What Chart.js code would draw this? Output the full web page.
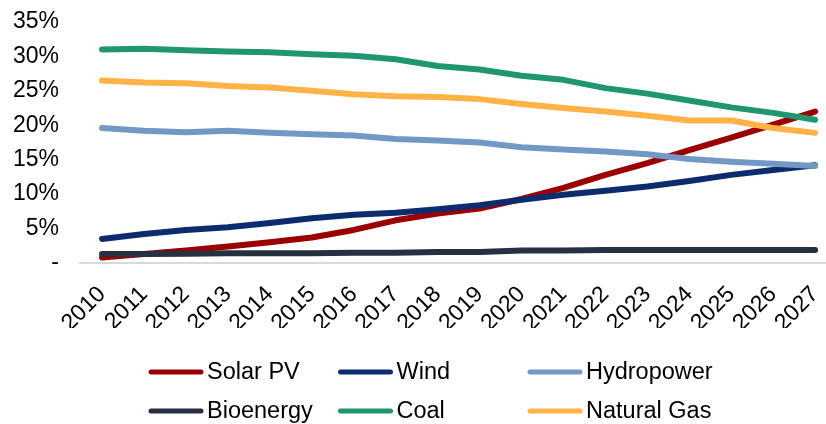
<!DOCTYPE html>
<html>
<head>
<meta charset="utf-8">
<script src="https://cdn.jsdelivr.net/npm/chart.js@4"></script>
<style>
  html, body { margin: 0; padding: 0; background: #fff; overflow: hidden; }
  #wrap { width: 826px; height: 424px; }
</style>
</head>
<body>
<div id="wrap"><canvas id="c" width="826" height="424"></canvas></div>
<script>
// Share of global electricity generation by source (%), 2010–2027
const years = [2010, 2011, 2012, 2013, 2014, 2015, 2016, 2017, 2018, 2019, 2020, 2021, 2022, 2023, 2024, 2025, 2026, 2027];

const solarPV    = [0.8, 1.3, 1.8, 2.4, 3.0, 3.7, 4.8, 6.2, 7.2, 7.9, 9.3, 10.9, 12.8, 14.5, 16.4, 18.2, 20.1, 22.0];
const wind       = [3.5, 4.2, 4.8, 5.2, 5.8, 6.5, 7.0, 7.3, 7.8, 8.4, 9.2, 9.9, 10.5, 11.1, 11.9, 12.8, 13.5, 14.2];
const hydropower = [19.6, 19.2, 19.0, 19.2, 18.9, 18.7, 18.5, 18.0, 17.8, 17.5, 16.8, 16.5, 16.2, 15.8, 15.1, 14.7, 14.4, 14.1];
const bioenergy  = [1.3, 1.3, 1.35, 1.4, 1.4, 1.4, 1.5, 1.5, 1.6, 1.6, 1.8, 1.8, 1.9, 1.9, 1.9, 1.9, 1.9, 1.9];
const coal       = [31.0, 31.1, 30.9, 30.7, 30.6, 30.3, 30.1, 29.6, 28.6, 28.1, 27.2, 26.6, 25.4, 24.6, 23.6, 22.6, 21.8, 20.8];
const naturalGas = [26.5, 26.2, 26.1, 25.7, 25.5, 25.0, 24.5, 24.2, 24.1, 23.8, 23.1, 22.5, 22.0, 21.4, 20.7, 20.7, 19.6, 18.9];

const seriesNames = ['Solar PV', 'Wind', 'Hydropower', 'Bioenergy', 'Coal', 'Natural Gas'];
const seriesData  = [solarPV, wind, hydropower, bioenergy, coal, naturalGas];
const seriesColors = ['#9a0000', '#0c2c6e', '#7299c6', '#273040', '#1f9670', '#ffb347'];

const yTicks = [0, 5, 10, 15, 20, 25, 30, 35];

const FONT = 'Liberation Sans, Arial, sans-serif';

// Legend drawn as a fixed three-column grid under the plot
const gridLegend = {
  id: 'gridLegend',
  afterDraw(chart, args, opts) {
    const ctx = chart.ctx;
    ctx.save();
    ctx.font = opts.fontSize + 'px ' + FONT;
    ctx.textBaseline = 'middle';
    ctx.textAlign = 'left';
    chart.data.datasets.forEach((ds, i) => {
      const col = i % opts.columns;
      const row = Math.floor(i / opts.columns);
      const x = opts.left + col * opts.colWidth;
      const y = opts.top + row * opts.rowHeight;
      ctx.strokeStyle = ds.borderColor;
      ctx.lineWidth = opts.lineWidth;
      ctx.lineCap = 'round';
      ctx.beginPath();
      ctx.moveTo(x + 3, y);
      ctx.lineTo(x + opts.lineLength - 3, y);
      ctx.stroke();
      ctx.fillStyle = '#000';
      ctx.fillText(ds.label, x + opts.lineLength + 3, y + 1);
    });
    ctx.restore();
  }
};

const datasets = seriesNames.map((name, i) => ({
  label: name,
  data: years.map((yr, k) => ({ x: yr, y: seriesData[i][k] })),
  borderColor: seriesColors[i],
  backgroundColor: seriesColors[i],
  borderWidth: 6,
  borderCapStyle: 'round',
  borderJoinStyle: 'round',
  pointRadius: 0,
  tension: 0,
  fill: false,
  // later series sit on top of earlier ones
  order: seriesNames.length - i
}));

new Chart(document.getElementById('c'), {
  type: 'line',
  data: { datasets },
  plugins: [gridLegend],
  options: {
    responsive: false,
    animation: false,
    devicePixelRatio: 1,
    layout: { padding: { left: 0, right: 0, top: 22, bottom: 96 } },
    plugins: {
      legend: { display: false },
      tooltip: { enabled: false },
      gridLegend: {
        columns: 3,
        left: 148,
        colWidth: 189.5,
        top: 372,
        rowHeight: 39,
        lineLength: 56,
        lineWidth: 5,
        fontSize: 23.5
      }
    },
    scales: {
      x: {
        type: 'linear',
        min: 2009.475,
        max: 2027.26,
        afterBuildTicks: (axis) => { axis.ticks = years.map(v => ({ value: v })); },
        afterFit: (scale) => {
          scale.height = 65;
          scale.paddingLeft = 0;
          scale.paddingRight = 0;
          scale.paddingTop = 0;
          scale.paddingBottom = 0;
        },
        grid: { display: false, drawTicks: false },
        border: { display: true, color: '#d9d9d9', width: 2 },
        ticks: {
          autoSkip: false,
          minRotation: 45,
          maxRotation: 45,
          padding: 18,
          color: '#000',
          font: { family: FONT, size: 23 },
          callback: (v) => String(v)
        }
      },
      y: {
        min: 0,
        max: 35,
        afterBuildTicks: (axis) => { axis.ticks = yTicks.map(v => ({ value: v })); },
        afterFit: (scale) => {
          scale.width = 80;
          scale.paddingTop = 0;
          scale.paddingBottom = 0;
        },
        grid: { display: false, drawTicks: false },
        border: { display: false },
        ticks: {
          padding: 21,
          color: '#000',
          font: { family: FONT, size: 23 },
          callback: (v) => v === 0 ? '-' : v + '%'
        }
      }
    }
  }
});
</script>
</body>
</html>
